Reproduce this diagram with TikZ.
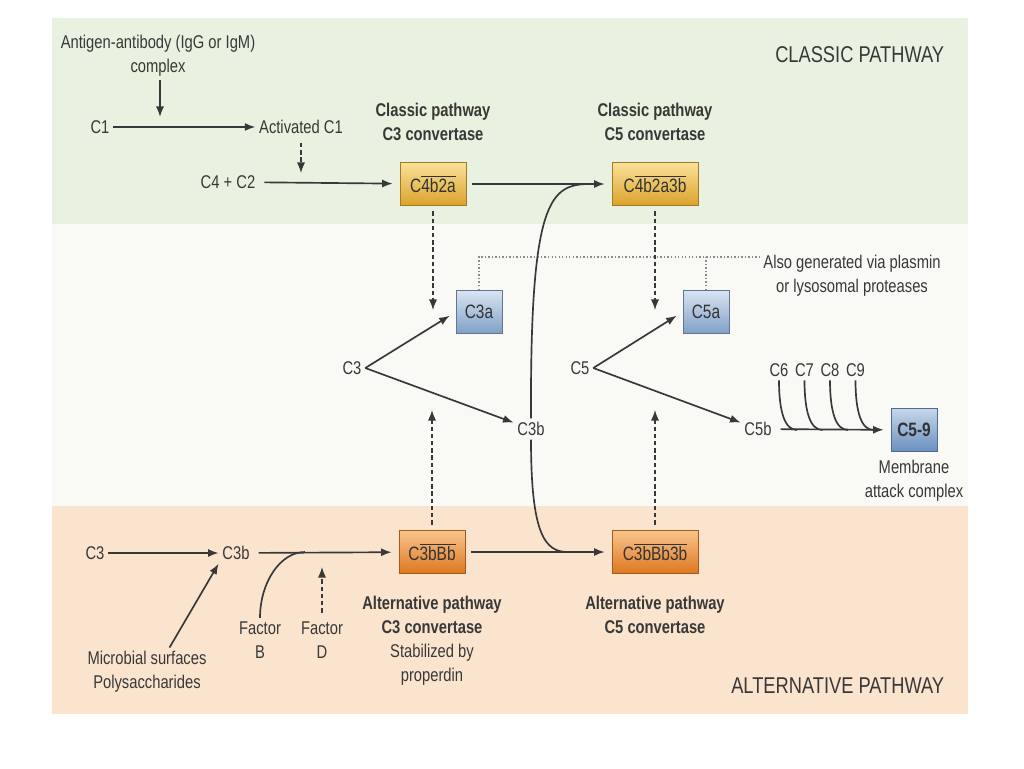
\documentclass[tikz,border=0pt]{standalone}
\usepackage{fontspec}
\setmainfont{Liberation Sans}[FakeStretch=0.8]
\usetikzlibrary{arrows.meta,positioning,calc}
\definecolor{cInk}{HTML}{383838}
\definecolor{cGreen}{HTML}{E9F2E0}
\definecolor{cMid}{HTML}{F9FAF6}
\definecolor{cPeach}{HTML}{FAE4CE}
\definecolor{cGoldT}{HTML}{F9E29A}
\definecolor{cGoldB}{HTML}{DBA22A}
\definecolor{cOrT}{HTML}{F8C58C}
\definecolor{cOrB}{HTML}{DE7720}
\definecolor{cBlueT}{HTML}{D9E5F1}
\definecolor{cBlueB}{HTML}{809FC6}
\definecolor{cMacT}{HTML}{C6D7EA}
\definecolor{cMacB}{HTML}{6A8FBF}
\tikzset{
  >={Latex[length=6pt,width=4.6pt]},
  txt/.style  ={text=cInk,font=\fontsize{10.5}{13.6}\selectfont,inner sep=2pt,align=center},
  ttl/.style  ={txt,font=\fontsize{10.5}{13.6}\selectfont\bfseries},
  hd/.style   ={txt,font=\fontsize{13}{15}\selectfont},
  box/.style  ={rectangle,minimum height=0.87cm,inner sep=2pt,text=black!80,
                font=\fontsize{11}{13}\selectfont},
  ybox/.style ={box,draw=cGoldB!75!black,top color=cGoldT,bottom color=cGoldB},
  obox/.style ={box,draw=cOrB!75!black,top color=cOrT,bottom color=cOrB},
  bbox/.style ={box,draw=cBlueB!75!black,top color=cBlueT,bottom color=cBlueB},
  mbox/.style ={box,draw=cMacB!75!black,top color=cMacT,bottom color=cMacB,
                font=\fontsize{11}{13}\selectfont\bfseries},
  ln/.style   ={line width=0.95pt,cInk},
  ar/.style   ={->,ln},
  tobox/.style={shorten >=4pt,shorten <=3pt},
  dar/.style  ={->,line width=0.7pt,cInk,dash pattern=on 2.5pt off 1.6pt,shorten <=3pt},
  dots/.style ={line width=0.6pt,black!45,dash pattern=on 0.8pt off 1.2pt},
}
\newcommand{\ovl}[1]{$\overline{\mbox{#1}}$}

\begin{document}
\begin{tikzpicture}[x=0.02cm,y=-0.02cm]
\useasboundingbox (0,0) rectangle (1024,768);
% bands
\fill[cGreen] (52,18) rectangle (968,224);
\fill[cMid]   (52,224) rectangle (968,506);
\fill[cPeach] (52,506) rectangle (968,714);

% classic pathway
\node[hd,anchor=east] (clp) at (948,55) {CLASSIC PATHWAY};
\node[txt] (agab) at (158,56) {Antigen-antibody (IgG or IgM)\\complex};
\node[txt] (c1)   at (100,127) {C1};
\node[txt] (ac1)  at (301,127) {Activated C1};
\node[txt] (c4c2) at (228,182) {C4 + C2};
\node[ybox,minimum width=1.32cm] (cc3) at (433,184) {C\ovl{4b2a}};
\node[ybox,minimum width=1.72cm] (cc5) at (655,184) {C\ovl{4b2a3b}};
\node[ttl,above=3.4mm of cc3] (cc3t) {Classic pathway\\C3 convertase};
\node[ttl,above=3.4mm of cc5] (cc5t) {Classic pathway\\C5 convertase};
\coordinate (c1j)  at (160,117);
\coordinate (c42j) at (301,173);

\draw[ar] (agab.south -| c1j) -- (c1j);
\draw[ar] (c1) -- (ac1);
\draw[dar] (ac1) -- (c42j);
\draw[ar,tobox] (c4c2) -- (cc3);
\draw[ar,tobox] (cc3) -- (cc5);

% cleavage products
\node[bbox,minimum width=0.92cm] (c3a) at (479,312) {C3a};
\node[bbox,minimum width=0.92cm] (c5a) at (706,312) {C5a};
\node[txt] (also) at (852,276) {Also generated via plasmin\\or lysosomal proteases};
\coordinate (nt)   at (759,257);
\coordinate (c3aj) at (433,310);
\coordinate (c5aj) at (655,310);
\draw[dots] (c3a.north) |- (nt);
\draw[dots] (c5a.north) -- (c5a.north |- nt);
\draw[dar] (cc3) -- (c3aj);
\draw[dar] (cc5) -- (c5aj);

\node[txt] (c3m)  at (352,368) {C3};
\node[txt] (c3bm) at (531,429) {C3b};
\node[txt] (c5m)  at (580,368) {C5};
\node[txt] (c5bm) at (758,429) {C5b};
\node[mbox,minimum width=0.92cm] (mac) at (914,430) {C5-9};
\node[txt,below=0.8mm of mac] (mact) {Membrane\\attack complex};

\draw[ar,shorten >=4pt] (c3m.east) -- (c3a.west);
\draw[ar] (c3m.east) -- (c3bm);
\draw[ar,shorten >=4pt] (c5m.east) -- (c5a.west);
\draw[ar] (c5m.east) -- (c5bm);
\draw[ar,tobox] (c5bm) -- (mac);
\foreach \n [count=\i from 0] in {6,7,8,9}{
  \node[txt] (c\n) at (779+25.5*\i,370) {C\n};
  \coordinate (j\n) at (797+25.5*\i,430);
  \draw[ln] (c\n.south) .. controls +(0,32) and +(-12,0) .. (j\n);
}

% alternative pathway
\node[hd,anchor=east] (alp) at (948,686) {ALTERNATIVE PATHWAY};
\node[txt] (c3l)  at (95,553) {C3};
\node[txt] (c3bl) at (236,553) {C3b};
\node[obox,minimum width=1.32cm] (ac3) at (432,552) {C\ovl{3bBb}};
\node[obox,minimum width=1.72cm] (ac5) at (655,552) {C\ovl{3bBb3b}};
\node[txt,below=3.7mm of ac3] (ac3t) {\textbf{Alternative pathway}\\\textbf{C3 convertase}\\Stabilized by\\properdin};
\node[ttl,below=3.7mm of ac5] (ac5t) {Alternative pathway\\C5 convertase};
\node[txt] (fb)  at (260,640) {Factor\\B};
\node[txt] (fd)  at (322,640) {Factor\\D};
\node[txt] (mic) at (147,672) {Microbial surfaces\\Polysaccharides};
\coordinate (fbj)  at (305,552);
\coordinate (fdj)  at (322,567);
\coordinate (c3up) at (432,410);
\coordinate (c5up) at (655,410);
\coordinate (cj1)  at (590,184);
\coordinate (cj2)  at (568,552);

\draw[ar] (c3l) -- (c3bl);
\draw[ar,tobox] (c3bl) -- (ac3);
\draw[ar,tobox] (ac3) -- (ac5);
\draw[ln] (fb.north) .. controls +(0,-35) and +(-25,0) .. (fbj);
\draw[dar] (fd.north) -- (fdj);
\draw[ar] ([xshift=4.5mm]mic.north) -- (c3bl.south west);
\draw[dar] (ac3) -- (c3up);
\draw[dar] (ac5) -- (c5up);

% C3b joins both C5 convertases
\draw[ln] (c3bm.north) .. controls (530,200) and (550,184) .. (cj1);
\draw[ln] (c3bm.south) .. controls (531,535) and (545,552) .. (cj2);
\end{tikzpicture}
\end{document}
